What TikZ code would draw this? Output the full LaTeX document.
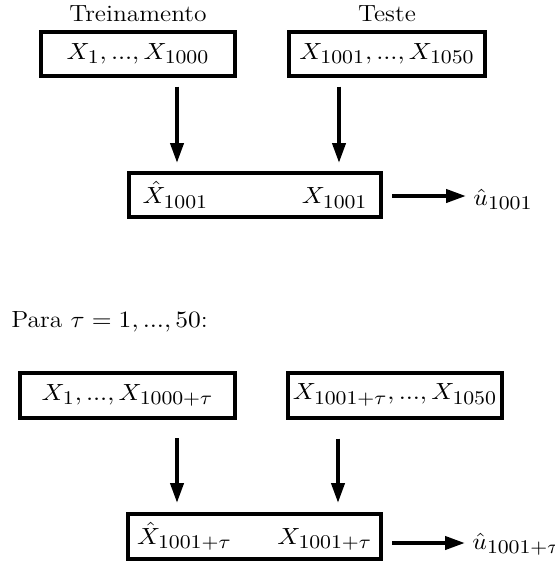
\RequirePackage{fix-cm}
\documentclass[tikz,border=0pt]{standalone}
\usetikzlibrary{arrows.meta}
% larger script sizes for the indices
\DeclareMathSizes{11.7}{11.7}{9.7}{7.5}
% labels are set slightly wide
\newcommand\wide[1]{\scalebox{1.09}[1]{#1}}
\begin{document}
\begin{tikzpicture}[x=0.5pt,y=-0.5pt,
  every node/.style={font=\fontsize{11.7}{14}\selectfont},
  databox/.style={draw, line width=2pt, inner sep=0pt, minimum height=22pt},
  flow/.style={line width=2pt, -{Triangle[length=10pt,width=6.5pt]}},
  heading/.style={anchor=base, inner sep=0pt},
  result/.style={anchor=base west, inner sep=0pt}]
\useasboundingbox (0,0) rectangle (555,563);

% single split: training and test windows
\node[heading] (ltrain) at (138,21) {\wide{Treinamento}};
\node[heading] (ltest) at (387,21) {\wide{Teste}};
\node[databox, minimum width=97pt] (train) at (138,53.5) {\wide{$X_1, ..., X_{1000}$}};
\node[databox, minimum width=98pt] (test) at (387,53.5) {\wide{$X_{1001}, ..., X_{1050}$}};
\node[databox, minimum width=126pt] (pred) at (255,195)
  {\makebox[112.5pt]{\wide{$\hat{X}_{1001}$}\hfill\wide{$X_{1001}$}}};
\node[result] (u) at (473,205) {\wide{$\hat{u}_{1001}$}};

\draw[flow] ([shift={(39,9)}]train.south) -- ([shift={(-78,-8)}]pred.north);
\draw[flow] ([shift={(-48,9)}]test.south) -- ([shift={(84,-8)}]pred.north);
\draw[flow] ([shift={(9,1)}]pred.east) -- ([shift={(-7,1)}]pred.east -| u.west);

% rolling window
\node[anchor=base west, inner sep=0pt] (loop) at (11,327) {\wide{Para $\tau = 1, ..., 50$:}};
\node[databox, minimum width=107.5pt, minimum height=22.5pt] (trainw) at (127.5,395.5)
  {\wide{$X_1, ..., X_{1000+\tau}$}};
\node[databox, minimum width=107pt, minimum height=22.5pt] (testw) at (395,395)
  {\wide{$X_{1001+\tau}, ..., X_{1050}$}};
\node[databox, minimum width=126.5pt, minimum height=22.5pt] (predw) at (254.5,536.5)
  {\makebox[117.5pt]{\wide{$\hat{X}_{1001+\tau}$}\hfill\wide{$X_{1001+\tau}$}}};
\node[result] (uw) at (472,549) {\wide{$\hat{u}_{1001+\tau}$}};

\draw[flow] ([shift={(49.5,18)}]trainw.south) -- ([shift={(-77.5,-9)}]predw.north);
\draw[flow] ([shift={(-57,19)}]testw.south) -- ([shift={(83.5,-9)}]predw.north);
\draw[flow] ([shift={(9,6.5)}]predw.east) -- ([shift={(-7,6.5)}]predw.east -| uw.west);
\end{tikzpicture}
\end{document}
